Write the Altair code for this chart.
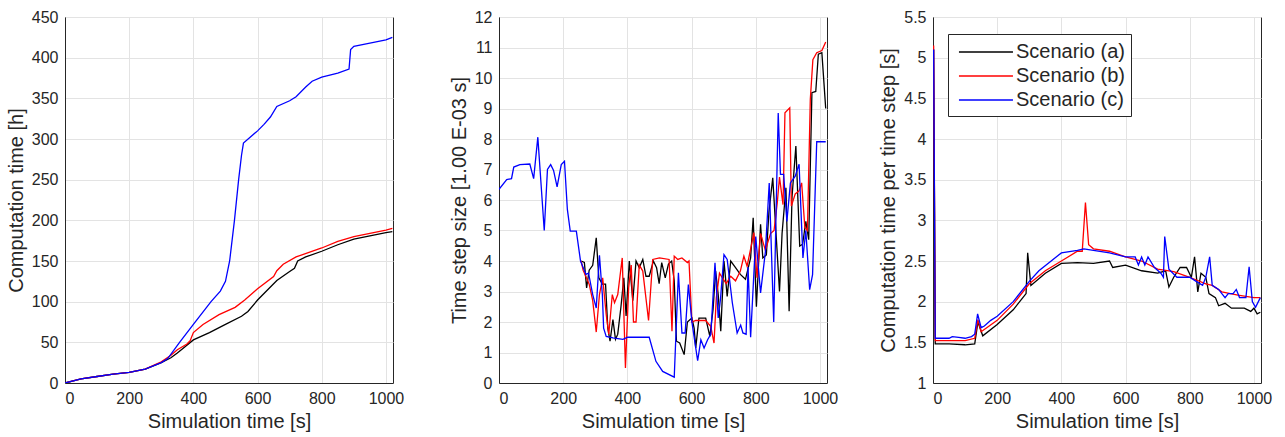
import altair as alt
import pandas as pd

# ---------------- data ----------------
names = ["Scenario (a)", "Scenario (b)", "Scenario (c)"]
colors = ["#000000", "#ff0000", "#0000ff"]
x_ticks = [0, 200, 400, 600, 800, 1000]

# Panel 1: computation time [h]
p1_a_x = [0, 50, 100, 150, 200, 250, 300, 330, 350, 375, 400, 450, 500, 550, 570, 600, 630, 660, 700, 715, 725, 750, 800, 850, 900, 950, 1000, 1020]
p1_a_y = [0, 5, 8, 11, 13, 17, 25, 31, 37, 45, 53, 62, 72, 82, 88, 102, 114, 126, 137, 141, 150, 155, 162, 170, 177, 181, 185, 186]
p1_b_x = [0, 50, 100, 150, 200, 250, 300, 330, 350, 380, 390, 400, 430, 480, 530, 560, 600, 650, 660, 680, 720, 800, 850, 900, 950, 1000, 1020]
p1_b_y = [0, 5, 8, 11, 13, 17, 26, 34, 41, 48, 52, 62, 72, 84, 93, 102, 116, 131, 138, 146, 155, 166, 174, 180, 184, 188, 190]
p1_c_x = [0, 50, 100, 150, 200, 250, 300, 320, 357, 400, 455, 484, 500, 513, 528, 541, 550, 556, 600, 620, 640, 660, 700, 720, 750, 770, 800, 850, 885, 890, 900, 950, 1000, 1020]
p1_c_y = [0, 5, 8, 11, 13, 17, 25, 30, 50, 72, 100, 113, 125, 150, 200, 250, 280, 295, 310, 318, 327, 340, 347, 352, 364, 371, 376, 381, 386, 410, 414, 418, 422, 425]

# Panel 2: time step size [1e-3 s]
p2_a_x = [256, 266, 273, 281, 292, 303, 311, 322, 332, 339, 346, 355, 363, 370, 380, 389, 396, 406, 417, 427,
          437, 448, 458, 468, 481, 491, 499, 507, 518, 528, 538, 546, 553, 563, 577, 587, 601, 608, 613, 623,
          644, 657, 667, 675, 683, 691, 701, 711, 722, 737, 752, 768, 784, 792, 802, 815, 822, 833, 841, 853,
          863, 874, 882, 894, 904, 913, 925, 937, 946, 956, 965, 975, 987, 995, 1006, 1018]
p2_a_y = [4.0, 3.95, 3.12, 3.7, 3.86, 4.76, 3.45, 3.24, 3.24, 1.8, 1.37, 2.08, 1.43, 1.6, 2.5, 3.45, 2.2, 4.0, 2.7, 4.0,
          3.78, 4.05, 3.5, 3.5, 4.0, 3.78, 3.26, 3.95, 3.45, 3.9, 4.0, 3.35, 1.37, 1.31, 0.93, 2.0, 2.13, 1.8, 1.15, 2.13,
          2.13, 1.53, 2.41, 3.67, 2.9, 1.7, 4.0, 2.84, 4.0, 3.78, 3.56, 3.4, 4.1, 5.42, 2.5, 5.2, 4.1, 4.2, 5.6, 6.73,
          4.94, 3.0, 4.9, 6.4, 2.35, 6.1, 7.77, 4.49, 4.55, 5.3, 4.7, 9.52, 9.56, 10.78, 10.83, 9.0]
p2_b_x = [256, 262, 281, 292, 303, 313, 323, 334, 342, 353, 360, 370, 384, 394, 404, 412, 419, 427, 437, 448,
          466, 479, 500, 530, 539, 546, 557, 570, 587, 592, 601, 613, 644, 660, 670, 677, 687, 696, 708, 722,
          737, 752, 763, 773, 789, 794, 804, 815, 830, 846, 857, 867, 874, 885, 891, 906, 911, 923, 935, 943,
          953, 961, 970, 978, 990, 1006, 1018]
p2_b_y = [4.0, 3.7, 3.24, 2.7, 1.67, 2.9, 3.45, 2.25, 1.6, 2.9, 2.63, 2.9, 4.1, 0.49, 3.12, 3.87, 2.0, 2.0, 3.87, 3.67,
          2.05, 4.05, 4.1, 4.05, 1.7, 4.16, 4.05, 4.1, 3.95, 4.0, 2.0, 2.05, 2.05, 1.85, 1.31, 2.78, 3.6, 3.45, 3.26, 3.5,
          3.35, 3.67, 4.16, 3.83, 4.65, 4.93, 3.45, 4.9, 4.35, 4.9, 5.0, 5.9, 6.75, 5.85, 8.86, 9.02, 5.8, 6.2, 6.3, 6.56,
          5.1, 5.0, 9.3, 10.6, 10.83, 10.9, 11.18]
p2_c_x = [0, 24, 39, 46, 65, 96, 108, 121, 141, 151, 161, 170, 181, 194, 204, 213, 222, 241, 254, 271,
          279, 292, 303, 313, 322, 326, 334, 355, 386, 401, 468, 489, 510, 546, 559, 570, 580, 590, 601, 619,
          629, 639, 650, 660, 673, 683, 690, 701, 711, 727, 742, 753, 760, 770, 776, 784, 800, 815, 830, 842,
          856, 870, 877, 887, 897, 908, 923, 935, 947, 956, 968, 977, 990, 1018]
p2_c_y = [6.35, 6.67, 6.7, 7.08, 7.16, 7.18, 6.7, 8.06, 5.0, 7.0, 7.16, 6.97, 6.43, 7.16, 7.27, 5.69, 4.98, 4.98, 4.0, 3.56,
          3.6, 2.9, 2.46, 4.19, 2.9, 1.8, 1.53, 1.48, 1.43, 1.5, 1.5, 0.71, 0.38, 0.19, 3.61, 1.64, 1.64, 3.23, 2.0, 0.73,
          1.42, 1.15, 1.42, 1.6, 3.94, 2.13, 2.74, 4.21, 4.05, 2.63, 1.64, 1.9, 1.64, 1.6, 3.8, 1.5, 4.8, 2.95, 4.3, 6.56,
          2.0, 8.85, 6.84, 6.84, 5.3, 6.56, 6.78, 7.17, 4.1, 5.0, 3.06, 3.55, 7.91, 7.91]

# Panel 3: computation time per time step [s]
p3_a_x = [2, 7, 50, 100, 130, 140, 155, 200, 250, 280, 290, 295, 305, 350, 400, 450, 500, 550, 560, 600,
          650, 700, 725, 735, 750, 770, 790, 805, 815, 825, 835, 850, 860, 880, 890, 910, 930, 970, 990, 1000, 1010, 1020]
p3_a_y = [5.1, 1.48, 1.48, 1.47, 1.48, 1.75, 1.58, 1.72, 1.9, 2.05, 2.1, 2.6, 2.2, 2.35, 2.47, 2.48, 2.47, 2.5, 2.42, 2.45,
          2.38, 2.35, 2.38, 2.18, 2.3, 2.42, 2.42, 2.3, 2.55, 2.12, 2.35, 2.3, 2.1, 2.05, 1.95, 1.98, 1.92, 1.92, 1.88, 1.92, 1.85, 1.87]
p3_b_x = [2, 7, 50, 100, 130, 140, 150, 200, 250, 300, 350, 400, 450, 465, 475, 485, 500, 550, 600, 650,
          700, 750, 800, 850, 870, 900, 950, 1000, 1020]
p3_b_y = [5.15, 1.52, 1.52, 1.52, 1.55, 1.78, 1.63, 1.77, 1.97, 2.22, 2.38, 2.5, 2.62, 2.62, 3.22, 2.7, 2.65, 2.62, 2.55, 2.5,
          2.4, 2.37, 2.3, 2.22, 2.2, 2.12, 2.08, 2.05, 2.05]
p3_c_x = [2, 7, 30, 50, 60, 80, 100, 120, 130, 139, 150, 160, 180, 200, 250, 300, 330, 400, 450, 470,
          500, 550, 600, 630, 640, 650, 660, 670, 690, 710, 718, 722, 735, 760, 800, 820, 840, 850, 862, 870,
          890, 900, 910, 920, 935, 945, 955, 975, 985, 995, 1005, 1020]
p3_c_y = [5.1, 1.55, 1.55, 1.55, 1.57, 1.56, 1.55, 1.57, 1.6, 1.85, 1.68, 1.7, 1.77, 1.82, 2.0, 2.25, 2.38, 2.6, 2.63, 2.65,
          2.63, 2.6, 2.55, 2.55, 2.45, 2.55, 2.45, 2.55, 2.42, 2.35, 2.3, 2.8, 2.4, 2.3, 2.3, 2.25, 2.2, 2.3, 2.55, 2.2,
          2.15, 2.1, 2.05, 2.1, 2.1, 2.15, 2.05, 2.05, 2.43, 2.0, 1.93, 2.05]


def frame(series):
    rows = []
    for name, xs, ys in series:
        for i, (xv, yv) in enumerate(zip(xs, ys)):
            rows.append({"x": xv, "y": yv, "s": name, "i": i})
    return pd.DataFrame(rows)


FONT = "Liberation Sans"
TXT = "#262626"


def panel(df, ytitle, ydomain, yticks, legend):
    return alt.Chart(df).mark_line(strokeWidth=1.3, clip=True).encode(
        x=alt.X("x:Q", scale=alt.Scale(domain=[0, 1022], nice=False),
                axis=alt.Axis(values=x_ticks, title="Simulation time [s]", labelExpr="'' + datum.value")),
        y=alt.Y("y:Q", scale=alt.Scale(domain=ydomain, nice=False, zero=False),
                axis=alt.Axis(values=yticks, title=ytitle, labelExpr="'' + datum.value")),
        color=alt.Color("s:N", scale=alt.Scale(domain=names, range=colors), legend=legend),
        order=alt.Order("i:Q"),
    ).properties(width=328, height=366)


df1 = frame([(names[0], p1_a_x, p1_a_y), (names[1], p1_b_x, p1_b_y), (names[2], p1_c_x, p1_c_y)])
df2 = frame([(names[0], p2_a_x, p2_a_y), (names[1], p2_b_x, p2_b_y), (names[2], p2_c_x, p2_c_y)])
df3 = frame([(names[0], p3_a_x, p3_a_y), (names[1], p3_b_x, p3_b_y), (names[2], p3_c_x, p3_c_y)])

legend3 = alt.Legend(
    orient="none", legendX=15, legendY=17, title=None,
    symbolType="M-0.64,0H4.27", symbolSize=484, symbolStrokeWidth=1.5,
    labelFont=FONT, labelFontSize=20, labelColor=TXT, labelOffset=38,
    fillColor="white", strokeColor=TXT, padding=6, rowPadding=2,
)

c1 = panel(df1, "Computation time [h]", [0, 450], list(range(0, 451, 50)), None)
c2 = panel(df2, "Time step size [1.00 E-03 s]", [0, 12], list(range(0, 13)), None)
c3 = panel(df3, "Computation time per time step [s]", [1, 5.5],
           [1, 1.5, 2, 2.5, 3, 3.5, 4, 4.5, 5, 5.5], legend3)

chart = alt.hconcat(c1, c2, c3, spacing=106, bounds="flush").resolve_scale(
    color="independent").resolve_legend(color="independent").properties(
    padding={"left": 5, "top": 8, "right": 5, "bottom": 5},
    background="white",
).configure_axis(
    labelFont=FONT, labelFontSize=16, labelColor=TXT,
    titleFont=FONT, titleFontSize=20, titleFontWeight="normal", titleColor=TXT,
    gridColor="#e3e3e3", gridWidth=1, domainColor=TXT, domainWidth=1,
    ticks=False, labelPadding=7, titlePadding=5,
).configure_view(stroke=TXT, strokeWidth=1)

chart.save("out.html", embed_options={"renderer": "svg", "actions": False})
